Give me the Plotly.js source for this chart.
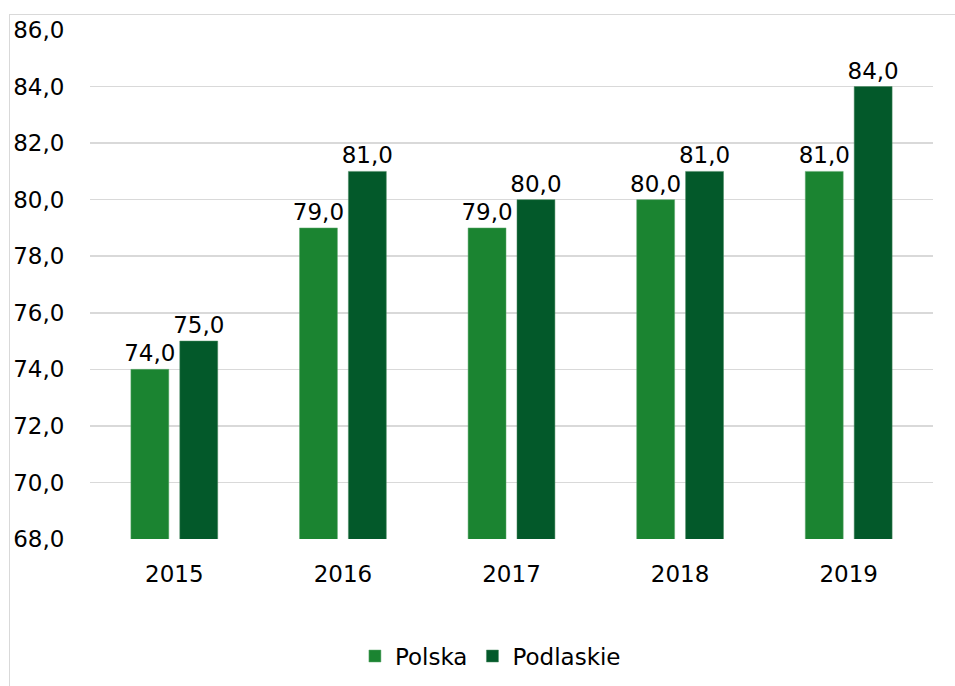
<!DOCTYPE html>
<html>
<head>
<meta charset="utf-8">
<script src="https://cdn.plot.ly/plotly-3.0.1.min.js"></script>
<style>
  html, body { margin: 0; padding: 0; background: #ffffff; }
  #wrap { position: relative; width: 955px; height: 686px; overflow: hidden; }
  #frame { position: absolute; left: 9px; top: 14px; width: 960px; height: 700px; border: 1px solid #d9d9d9; box-sizing: border-box; pointer-events: none; }
  #chart { position: absolute; left: 0; top: 0; width: 955px; height: 686px; }
</style>
</head>
<body>
<div id="wrap">
  <div id="chart"></div>
  <div id="frame"></div>
</div>
<script>
const years = ['2015', '2016', '2017', '2018', '2019'];
const polska = [74.0, 79.0, 79.0, 80.0, 81.0];
const podlaskie = [75.0, 81.0, 80.0, 81.0, 84.0];
const seriesNames = ['Polska', 'Podlaskie'];

const FONT = 'Century Gothic, DejaVu Sans, sans-serif';
const FS = 23;

const traces = [
  {
    type: 'bar', name: seriesNames[0], x: years, y: polska,
    marker: { color: '#1b8431', line: { color: '#5fa86e', width: 0.5 } },
    texttemplate: '%{y:.1f}', textposition: 'outside', cliponaxis: false, constraintext: 'none',
    textfont: { family: FONT, size: FS, color: '#000000' }
  },
  {
    type: 'bar', name: seriesNames[1], x: years, y: podlaskie,
    marker: { color: '#03592a', line: { color: '#4a8a60', width: 0.5 } },
    texttemplate: '%{y:.1f}', textposition: 'outside', cliponaxis: false, constraintext: 'none',
    textfont: { family: FONT, size: FS, color: '#000000' }
  }
];

const layout = {
  width: 955, height: 686,
  margin: { l: 90, r: 22, t: 30, b: 147, autoexpand: false },
  paper_bgcolor: 'rgba(0,0,0,0)', plot_bgcolor: '#ffffff',
  separators: ', ',
  font: { family: FONT, size: FS, color: '#000000' },
  barmode: 'group', bargap: 0.42, bargroupgap: 0.2245,
  showlegend: true,
  legend: {
    orientation: 'h', x: 0.475, xanchor: 'center', y: -0.23, yanchor: 'middle',
    font: { family: FONT, size: FS, color: '#000000' }, itemwidth: 30
  },
  xaxis: {
    type: 'category', showgrid: false, zeroline: false, showline: false,
    ticks: 'outside', ticklen: 14, tickcolor: 'rgba(0,0,0,0)',
    tickfont: { family: FONT, size: FS, color: '#000000' }
  },
  yaxis: {
    range: [68, 86], dtick: 2, tickformat: '.1f',
    showgrid: true, gridcolor: '#d9d9d9', gridwidth: 1.5,
    zeroline: false, showline: false,
    ticks: 'outside', ticklen: 20, tickcolor: 'rgba(0,0,0,0)',
    tickfont: { family: FONT, size: FS, color: '#000000' }
  }
};

Plotly.newPlot('chart', traces, layout, { displayModeBar: false, staticPlot: true });
</script>
</body>
</html>
